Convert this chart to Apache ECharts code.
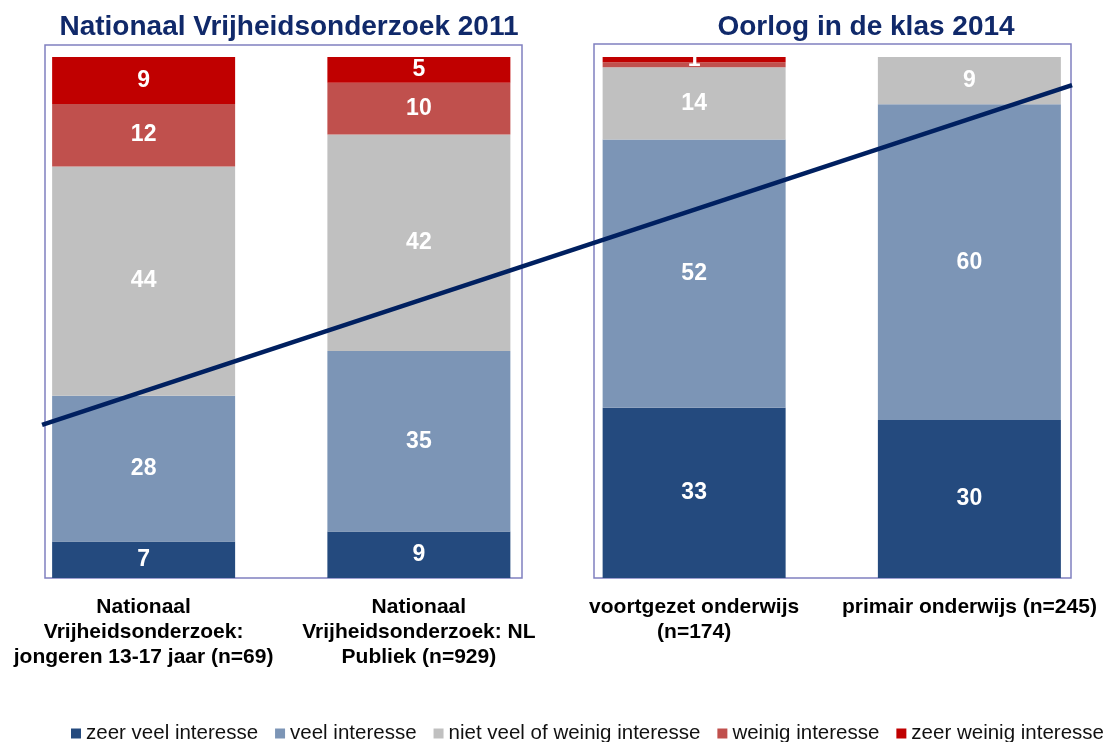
<!DOCTYPE html>
<html>
<head>
<meta charset="utf-8">
<script src="https://cdn.jsdelivr.net/npm/echarts@6/dist/echarts.min.js"></script>
<style>html,body{margin:0;padding:0;background:#fff;}#c{width:1105px;height:742px;}</style>
</head>
<body>
<div id="c"></div>
<script>
const categories = [
  'Nationaal\nVrijheidsonderzoek:\njongeren 13-17 jaar (n=69)',
  'Nationaal\nVrijheidsonderzoek: NL\nPubliek (n=929)',
  'voortgezet onderwijs\n(n=174)',
  'primair onderwijs (n=245)'
];
const seriesNames = ['zeer veel interesse','veel interesse','niet veel of weinig interesse','weinig interesse','zeer weinig interesse'];
const zeerVeel   = [7, 9, 33, 30];
const veel       = [28, 35, 52, 60];
const nietVeel   = [44, 42, 14, 9];
const weinig     = [12, 10, 1, null];
const zeerWeinig = [9, 5, 1, null];
const hiddenLabels = [[3, 2]]; // [series index, category index] of labels not shown
const trendX = [-0.369, 3.373];
const trendY = [29.4, 94.6];
const groupTitles = ['Nationaal Vrijheidsonderzoek 2011', 'Oorlog in de klas 2014'];

const FONT = 'Liberation Sans, Arial, sans-serif';
const colors = ['#244A7E','#7C95B6','#C0C0C0','#C0504D','#C00000'];
const all = [zeerVeel, veel, nietVeel, weinig, zeerWeinig];
const totals = categories.map((c,i)=>all.reduce((s,a)=>s+(a[i]||0),0));

const chart = echarts.init(document.getElementById('c'), null, {renderer:'canvas'});
const barSeries = all.map((arr, si)=>({
  name: seriesNames[si],
  type: 'bar',
  stack: 'total',
  barWidth: 183,
  itemStyle: {color: colors[si]},
  label: {
    show: true, position: 'inside', color: '#fff', fontWeight: 'bold', fontSize: 23,
    fontFamily: FONT,
    formatter: p => (p.data.raw == null || hiddenLabels.some(h=>h[0]===si&&h[1]===p.dataIndex)) ? '' : String(p.data.raw)
  },
  data: arr.map((v,i)=>({value: v==null? null : v/totals[i]*100, raw: v}))
}));

chart.setOption({
  animation: false,
  title: [
    {text: groupTitles[0], left: 284, top: 8, textAlign: 'center',
     textStyle:{fontSize:28, fontWeight:'bold', color:'#10296A', fontFamily:FONT}},
    {text: groupTitles[1], left: 861, top: 8, textAlign: 'center',
     textStyle:{fontSize:28, fontWeight:'bold', color:'#10296A', fontFamily:FONT}}
  ],
  graphic: [
    {type:'rect', shape:{x:45, y:45, width:477, height:533}, style:{fill:'none', stroke:'#8080C0', lineWidth:1.5}, z:-1},
    {type:'rect', shape:{x:594, y:44, width:477, height:534}, style:{fill:'none', stroke:'#8080C0', lineWidth:1.5}, z:-1}
  ],
  legend: {
    data: seriesNames, left: 71, top: 723, width: 1200, padding: 0, icon: 'rect', itemWidth: 10, itemHeight: 10, itemGap: 17,
    textStyle: {fontSize: 20.5, color:'#111', fontFamily:FONT}
  },
  grid: {left: 6, top: 57, width: 1101, bottom: 164, outerBoundsMode: 'none', containLabel: false},
  xAxis: [
    {type:'category', data: categories, axisLine:{show:false}, axisTick:{show:false},
     axisLabel:{interval:0, fontSize:21, fontWeight:'bold', color:'#000', lineHeight:25, margin:17,
       fontFamily:FONT}},
    {type:'value', min:-0.5, max:3.5, show:false}
  ],
  yAxis: {type:'value', min:0, max:100, show:false, splitLine:{show:false}},
  series: barSeries.concat([{
    type:'line', xAxisIndex:1, yAxisIndex:0, symbol:'none', z:10,
    lineStyle:{color:'#002060', width:4.5}, silent:true,
    data: trendX.map((x,i)=>[x, trendY[i]])
  }])
});
</script>
</body>
</html>
